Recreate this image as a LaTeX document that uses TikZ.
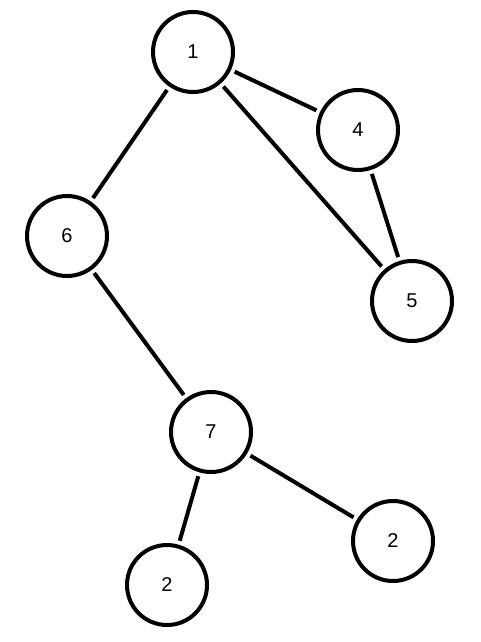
\documentclass[tikz,border=0pt]{standalone}
\usepackage{fontspec}
\setmainfont{Liberation Sans}
\usepackage{tikz}
\usetikzlibrary{arrows.meta}

\begin{document}
\begin{tikzpicture}[x=1pt,y=-1pt,
    vtx/.style={circle,draw=black,line width=4pt,minimum size=80pt,inner sep=0pt,font=\fontsize{20}{24}\selectfont},
    edge/.style={line width=4pt,shorten <=4pt,shorten >=4pt}]
  \useasboundingbox (0,0) rectangle (480,642);
  \node[vtx] (n1) at (193,52) {1};
  \node[vtx] (n4) at (358,130) {4};
  \node[vtx] (n6) at (67,236) {6};
  \node[vtx] (n5) at (412,301) {5};
  \node[vtx] (n7) at (211,432) {7};
  \node[vtx] (n2a) at (167,585) {2};
  \node[vtx] (n2b) at (393,541) {2};

  \draw[edge] (n1) -- (n4);
  \draw[edge] (n1) -- (n5);
  \draw[edge] (n1) -- (n6);
  \draw[edge] (n4) -- (n5);
  \draw[edge] (n6) -- (n7);
  \draw[edge] (n7) -- (n2a);
  \draw[edge] (n7) -- (n2b);
\end{tikzpicture}
\end{document}
